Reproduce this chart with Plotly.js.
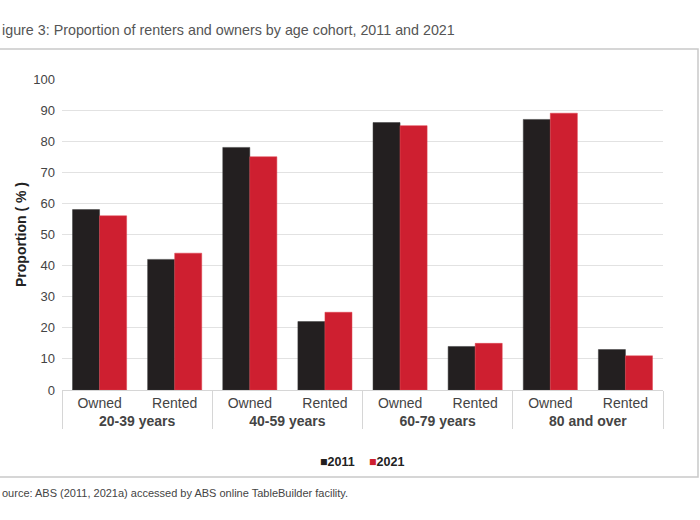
<!DOCTYPE html>
<html>
<head>
<meta charset="utf-8">
<script src="https://cdn.plot.ly/plotly-3.0.1.min.js"></script>
<style>html,body{margin:0;padding:0;background:#fff;}#chart{width:700px;height:520px;}</style>
</head>
<body>
<div id="chart"></div>
<script>
const groups = ["20-39 years", "40-59 years", "60-79 years", "80 and over"];
const tenures = ["Owned", "Rented"];
const seriesNames = ["2011", "2021"];
const values2011 = [58, 42, 78, 22, 86, 14, 87, 13];
const values2021 = [56, 44, 75, 25, 85, 15, 89, 11];
const yTicks = [0, 10, 20, 30, 40, 50, 60, 70, 80, 90, 100];
const colors = ["#231f20", "#ce1f30"];

const groupRow = [];
const tenureRow = [];
groups.forEach(g => tenures.forEach(t => { groupRow.push("<b>" + g + "</b>"); tenureRow.push(t); }));

const F = "Liberation Sans, Arial, sans-serif";

const traces = [
  {type: "bar", name: seriesNames[0], x: [groupRow, tenureRow], y: values2011,
   marker: {color: colors[0], line: {color: "#3a3a3a", width: 0.5}}, hoverinfo: "y", showlegend: false},
  {type: "bar", name: seriesNames[1], x: [groupRow, tenureRow], y: values2021,
   marker: {color: colors[1], line: {color: "#e0404c", width: 0.5}}, hoverinfo: "y", showlegend: false}
];

const L = 62, R = 663, T = 79, B = 390;
const px = v => (v - L) / (R - L);
const py = v => (B - v) / (B - T);

const legendAnn = seriesNames.map((n, i) => ({
  text: "<span style='color:" + colors[i] + "'>\u25A0</span><b>" + n + "</b>",
  xref: "paper", yref: "paper", x: px(i === 0 ? 318 : 367), y: py(462),
  xanchor: "left", yanchor: "middle", showarrow: false,
  font: {size: 12.5, color: "#222", family: F}
}));

const layout = {
  width: 700, height: 520,
  margin: {l: L, r: 700 - R, t: T, b: 520 - B},
  paper_bgcolor: "#ffffff", plot_bgcolor: "#ffffff",
  font: {family: F, color: "#444"},
  barmode: "group", bargap: 0.28, bargroupgap: 0,
  showlegend: false,
  xaxis: {type: "multicategory", showgrid: false, showline: true, linecolor: "#d6d6d6", linewidth: 1,
          showdividers: true, dividercolor: "#d6d6d6", dividerwidth: 1,
          tickfont: {size: 14, color: "#444", family: F}, ticks: "", fixedrange: true},
  yaxis: {range: [0, 100], tickvals: yTicks, ticktext: yTicks.map(String), showgrid: true,
          gridcolor: "#e2e2e2", gridwidth: 1, zeroline: false, showline: false,
          tickfont: {size: 13, color: "#444", family: F}, ticks: "", ticklabelstandoff: 6,
          title: {text: "<b>Proportion ( % )</b>", font: {size: 14, color: "#222", family: F}, standoff: 3},
          fixedrange: true},
  shapes: [
    {type: "rect", xref: "paper", yref: "paper", x0: px(-1), x1: px(698), y0: py(477), y1: py(49),
     line: {color: "#c9c9c9", width: 1.5}, fillcolor: "rgba(0,0,0,0)", layer: "below"}
  ],
  annotations: [
    {text: "igure 3: Proportion of renters and owners by age cohort, 2011 and 2021",
     xref: "paper", yref: "paper", x: px(0), y: py(30), xanchor: "left", yanchor: "middle",
     showarrow: false, font: {size: 14.3, color: "#555", family: F}},
    {text: "ource: ABS (2011, 2021a) accessed by ABS online TableBuilder facility.",
     xref: "paper", yref: "paper", x: px(0), y: py(493), xanchor: "left", yanchor: "middle",
     showarrow: false, font: {size: 11, color: "#444", family: F}}
  ].concat(legendAnn)
};

Plotly.newPlot("chart", traces, layout, {displayModeBar: false, staticPlot: true});
</script>
</body>
</html>
